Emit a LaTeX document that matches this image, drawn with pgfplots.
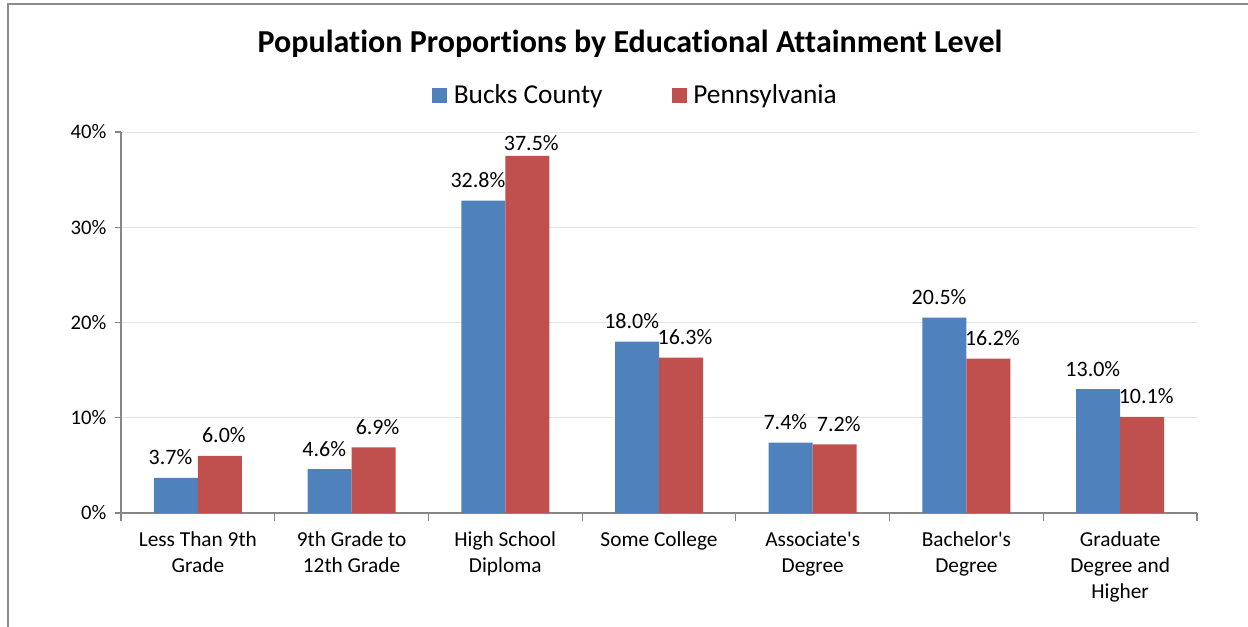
\documentclass[border=0pt]{standalone}
\usepackage{pgfplots}
\pgfplotsset{compat=1.18}
\usepackage{fontspec}
\setmainfont{Carlito}[Ligatures=NoCommon]
\definecolor{bucks}{HTML}{4F81BD}
\definecolor{penn}{HTML}{C0504D}
\definecolor{axisgray}{HTML}{868686}
\definecolor{gridgray}{HTML}{E4E4E4}
\definecolor{framegray}{HTML}{8C8C8C}
\begin{document}
\begin{tikzpicture}
% page = 1248 x 627 px, 1px = 0.75pt
\path[use as bounding box] (0,0) rectangle (936pt,470.25pt);
\draw[framegray, line width=1.6pt] (6.2pt,0) -- (6.2pt,467pt) -- (936pt,467pt);
\begin{axis}[
  at={(90.75pt,85.5pt)}, anchor=south west,
  width=807pt, height=285.75pt, scale only axis,
  ybar=0pt, bar width=33pt,
  xmin=-0.5, xmax=6.5, ymin=0, ymax=40,
  xtick={0,...,6},
  xticklabels={{Less Than 9th\\Grade},{9th Grade to\\12th Grade},{High School\\Diploma},{Some College},{Associate\textquotesingle s\\Degree},{Bachelor\textquotesingle s\\Degree},{Graduate\\Degree and\\Higher}},
  minor xtick={-0.5,0.5,...,6.5},
  major x tick style={draw=none},
  minor x tick style={axisgray, line width=0.8pt},
  minor tick length=6pt,
  ytick={0,10,20,30,40},
  yticklabel={\pgfmathprintnumber{\tick}\%},
  ytick style={axisgray, line width=0.8pt},
  major tick length=4.5pt,
  tick align=outside,
  axis x line*=bottom, axis y line*=left,
  axis line style={axisgray, line width=0.8pt, -},
  ymajorgrids, grid style={gridgray, line width=0.6pt},
  /pgf/number format/assume math mode=true,
  tick label style={font=\fontsize{15.5}{19.5}\selectfont, black},
  xticklabel style={align=center, anchor=north, yshift=-6pt, font=\fontsize{16}{19.5}\selectfont},
  yticklabel style={xshift=-3pt},
  title={Population Proportions by Educational Attainment Level},
  title style={at={(axis description cs:0.473,1.2126)}, anchor=base, yshift=-7.5pt, font=\bfseries\fontsize{24}{28}\selectfont},
  legend columns=2,
  legend style={draw=none, fill=none, at={(axis description cs:0.4786,1.097)}, anchor=center,
    font=\fontsize{20.5}{24}\selectfont, column sep=0pt,
    /tikz/every even column/.append style={column sep=50pt}},
  legend image code/.code={\fill[#1] (0pt,-5.6pt) rectangle (11.25pt,5.6pt); \path (14pt,0);},
  nodes near coords={\pgfmathprintnumber[fixed,fixed zerofill,precision=1]{\pgfplotspointmeta}\%},
  every node near coord/.append style={font=\fontsize{16.5}{19}\selectfont, black},
  point meta=y,
  visualization depends on={y \as \rawy},
]
\addplot[fill=bucks, draw=none, nodes near coords style={yshift=6pt, xshift=-4pt}]
  coordinates {(0,3.7) (1,4.6) (2,32.8) (3,18.0) (4,7.4) (5,20.5) (6,13.0)};
\addplot[fill=penn, draw=none, nodes near coords style={yshift={(\rawy>35 ? 0.5 : 6)*1pt}, xshift=3pt}]
  coordinates {(0,6.0) (1,6.9) (2,37.5) (3,16.3) (4,7.2) (5,16.2) (6,10.1)};
\legend{Bucks County, Pennsylvania}
\end{axis}
\end{tikzpicture}
\end{document}
